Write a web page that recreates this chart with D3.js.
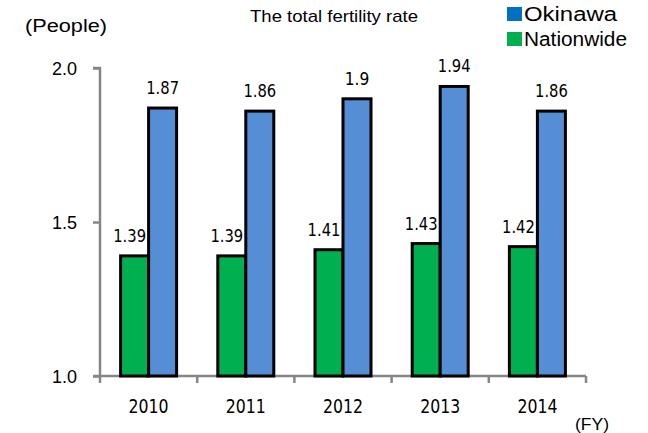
<!DOCTYPE html>
<html>
<head>
<meta charset="utf-8">
<script src="https://cdn.jsdelivr.net/npm/d3@7"></script>
<style>
body { margin: 0; background: #fff; }
svg text { font-family: "Liberation Sans", Arial, sans-serif; fill: #000; }
.num { font-family: "Liberation Sans Narrow", "DejaVu Sans Condensed", sans-serif; }
</style>
</head>
<body>
<script>
var years = ["2010", "2011", "2012", "2013", "2014"];
var okinawa = [1.87, 1.86, 1.9, 1.94, 1.86];
var nationwide = [1.39, 1.39, 1.41, 1.43, 1.42];
var yTicks = [1.0, 1.5, 2.0];

var svg = d3.select("body").append("svg")
	.attr("width", 648)
	.attr("height", 433);

var x = d3.scaleBand().domain(years).range([100, 586]);
var y = d3.scaleLinear().domain([1.0, 2.0]).range([376, 68]);
var barW = 28;
var axisColor = "#868686";

// y axis
var yAxis = svg.append("g").attr("transform", "translate(100,0)")
	.call(d3.axisLeft(y).tickValues(yTicks).tickFormat(d3.format(".1f")).tickSize(7).tickPadding(16));
yAxis.selectAll("text").style("font-size", "18px").attr("dy", "0.36em");
yAxis.selectAll("line").attr("stroke", axisColor).attr("stroke-width", 2.5);
yAxis.select(".domain").attr("stroke", axisColor).attr("stroke-width", 2.5).attr("d", "M-7,68H0V376");

// x axis
var xAxis = svg.append("g").attr("transform", "translate(0,376)");
xAxis.append("line").attr("x1", 93).attr("x2", 586).attr("y1", 0).attr("y2", 0);
xAxis.selectAll("line.tick")
	.data(years.map(function(d) { return x(d); }).concat([x.range()[1]]))
	.enter().append("line").attr("class", "tick")
	.attr("x1", function(d) { return d; })
	.attr("x2", function(d) { return d; })
	.attr("y1", 0).attr("y2", 7);
xAxis.selectAll("line").attr("stroke", axisColor).attr("stroke-width", 2.5);
xAxis.selectAll("text")
	.data(years)
	.enter().append("text")
	.attr("class", "num")
	.attr("x", function(d) { return x(d) + x.bandwidth() / 2; })
	.attr("y", 37)
	.attr("text-anchor", "middle")
	.attr("textLength", 40)
	.attr("lengthAdjust", "spacingAndGlyphs")
	.style("font-size", "20px")
	.text(function(d) { return d; });

// bars
var group = svg.selectAll("g.year")
	.data(years)
	.enter().append("g").attr("class", "year")
	.attr("transform", function(d) { return "translate(" + (x(d) + x.bandwidth() / 2) + ",0)"; });

var series = [
	{ name: "Nationwide", values: nationwide, fill: "#00B050", dx: -barW, shift: -5 },
	{ name: "Okinawa", values: okinawa, fill: "#558ED5", dx: 0, shift: 0 }
];

series.forEach(function(s) {
	group.append("rect")
		.attr("x", s.dx)
		.attr("y", function(d, i) { return y(s.values[i]); })
		.attr("width", barW)
		.attr("height", function(d, i) { return y(1.0) - y(s.values[i]); })
		.attr("fill", s.fill)
		.attr("stroke", "#000")
		.attr("stroke-width", 3);
	group.append("text")
		.attr("class", "num")
		.attr("x", s.dx + barW / 2 + s.shift)
		.attr("y", function(d, i) { return y(s.values[i]) - 14; })
		.attr("text-anchor", "middle")
		.attr("textLength", function(d, i) { return String(s.values[i]).length * 8.2; })
		.attr("lengthAdjust", "spacingAndGlyphs")
		.style("font-size", "18px")
		.text(function(d, i) { return s.values[i]; });
});

// titles
svg.append("text").attr("x", 25).attr("y", 32).style("font-size", "18px")
	.attr("textLength", 82).attr("lengthAdjust", "spacingAndGlyphs").text("(People)");
svg.append("text").attr("x", 250).attr("y", 22).style("font-size", "17px")
	.attr("textLength", 168).attr("lengthAdjust", "spacingAndGlyphs").text("The total fertility rate");
svg.append("text").attr("x", 575).attr("y", 430).style("font-size", "17px")
	.attr("textLength", 34).attr("lengthAdjust", "spacingAndGlyphs").text("(FY)");

// legend
var legend = svg.selectAll("g.legend")
	.data([{ name: "Okinawa", fill: "#0070C0", w: 93 }, { name: "Nationwide", fill: "#00B050", w: 103 }])
	.enter().append("g").attr("class", "legend")
	.attr("transform", function(d, i) { return "translate(507," + (7 + i * 25) + ")"; });
legend.append("rect").attr("width", 15).attr("height", 14).attr("fill", function(d) { return d.fill; });
legend.append("text").attr("x", 17).attr("y", 13.5).style("font-size", "20px")
	.attr("textLength", function(d) { return d.w; }).attr("lengthAdjust", "spacingAndGlyphs")
	.text(function(d) { return d.name; });
</script>
</body>
</html>
